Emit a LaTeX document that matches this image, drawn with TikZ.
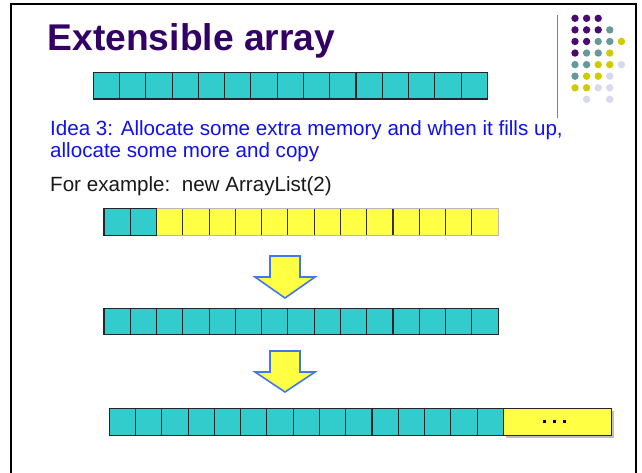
\documentclass[tikz,border=0pt]{standalone}
\usepackage{fontspec}
\setmainfont{Liberation Sans}
\definecolor{cellteal}{HTML}{33CCCC}
\definecolor{cellyellow}{HTML}{FFFF44}
\definecolor{titlepurple}{HTML}{330066}
\definecolor{ideablue}{HTML}{1010F0}
\definecolor{arrowblue}{HTML}{4477EE}
\definecolor{dotP}{HTML}{4B0A70}
\definecolor{dotT}{HTML}{669A9A}
\definecolor{dotY}{HTML}{CCCC00}
\definecolor{dotL}{HTML}{D8D8EE}
\tikzset{
  cellbox/.style={draw=black!85, line width=1.1pt, fill=cellteal, inner sep=0pt,
    minimum width=26.27pt, minimum height=26.3pt, outer sep=0pt},
  ycell/.style={fill=cellyellow, inner sep=0pt, minimum width=26.27pt,
    minimum height=26.3pt, outer sep=0pt},
  blockarrow/.style={fill=cellyellow, draw=arrowblue, line width=1.6pt, line join=miter},
  dotc/.style={circle, inner sep=0pt, minimum size=7.4pt},
  bodytext/.style={anchor=base west, inner sep=0pt, font=\fontsize{20.6}{24}\selectfont},
}
\begin{document}
\begin{tikzpicture}[x=1pt,y=-1pt]
\useasboundingbox (0,0) rectangle (642,472);
\fill[white] (0,0) rectangle (642,472);
\begin{scope}
\clip (0,0) rectangle (642,472);
\draw[line width=1.8pt, black] (11,4) rectangle (636,490);
\end{scope}
% title
\node[anchor=base west, inner sep=0pt, text=titlepurple, font=\bfseries\fontsize{37.2}{42}\selectfont] (title) at (47.5,50.5) {Extensible array};
% decoration dots
\draw[gray, line width=1.3pt] (557.5,15) -- (557.5,118);
\foreach \r/\cs in {0/{0/P,1/P,2/P},1/{0/P,1/P,2/P,3/T},2/{0/P,1/P,2/T,3/T,4/Y},
  3/{0/P,1/T,2/T,3/Y},4/{0/T,1/T,2/Y,3/Y,4/L},5/{0/T,1/Y,2/Y,3/L},
  6/{0/Y,1/Y,2/L,3/L},7/{1/L,3/L}}{
  \foreach \c/\k in \cs {
    \node[dotc, fill=dot\k] (dot-\r-\c) at ({575+11.6*\c},{18.3+11.58*\r}) {};
  }
}
% array 1
\foreach \i in {0,...,14}{
  \node[cellbox] (a1-\i) at ({93.3+13.135+26.27*\i},85.8) {};
}
% idea text
\node[bodytext, text=ideablue] (idea1) at (50,135) {Idea 3: Allocate some extra memory and when it fills up,};
\node[bodytext, text=ideablue] (idea2) at (50,157) {allocate some more and copy};
\node[bodytext, text=black!90] (example) at (50,191.5) {For example:\ \ new ArrayList(2)};
% array 2
\foreach \i in {2,...,14}{
  \node[ycell] (a2-\i) at ({104+13.135+26.27*\i},222) {};
}
\draw[gray!55, line width=1.1pt] (a2-2.north west) rectangle (a2-14.south east);
\foreach \i in {3,...,14}{
  \draw[black!80, line width=1.1pt] (a2-\i.north west) -- (a2-\i.south west);
}
\foreach \i in {0,1}{
  \node[cellbox] (a2-\i) at ({104+13.135+26.27*\i},222) {};
}
% arrow 1
\draw[blockarrow] (270,256) -- (300,256) -- (300,277) -- (315,277) -- (285,298) -- (255,277) -- (270,277) -- cycle;
% array 3
\foreach \i in {0,...,14}{
  \node[cellbox] (a3-\i) at ({104+13.135+26.27*\i},321.7) {};
}
% arrow 2
\draw[blockarrow] (270,351) -- (300,351) -- (300,372) -- (315,372) -- (285,392) -- (255,372) -- (270,372) -- cycle;
% array 4
\fill[black!25] (506,411) rectangle (613.5,437.5);
\foreach \i in {0,...,14}{
  \node[cellbox] (a4-\i) at ({109.3+13.135+26.27*\i},422) {};
}
\node[cellbox, fill=cellyellow, minimum width=108pt, anchor=west] (more) at (a4-14.east) {};
\foreach \d in {-14.5,-4.5,5.5}{
  \fill[black] ([xshift=\d pt, yshift=2pt]more.center) rectangle ++(2.8pt,-2.8pt);
}
\end{tikzpicture}
\end{document}
